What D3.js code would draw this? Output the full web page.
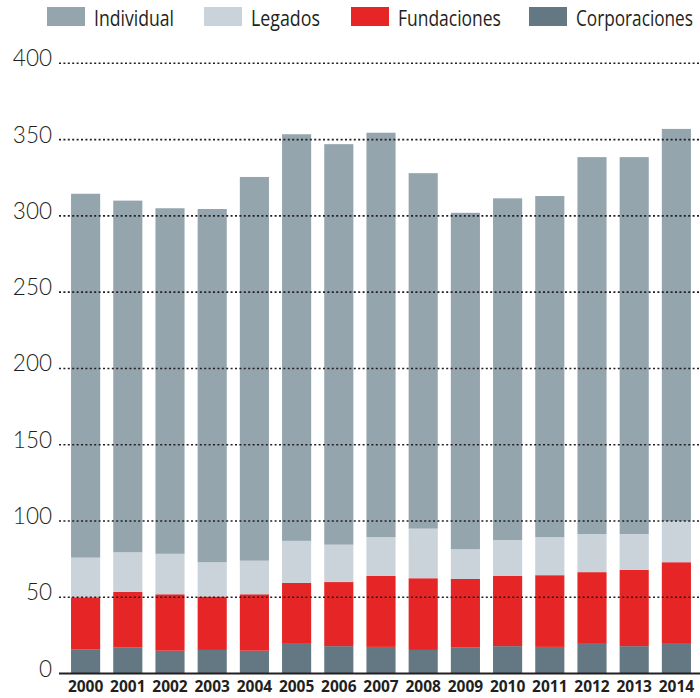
<!DOCTYPE html>
<html>
<head>
<meta charset="utf-8">
<script src="https://cdn.jsdelivr.net/npm/d3@7"></script>
<style>
  body { margin: 0; background: #fff; }
  svg { display: block; }
</style>
</head>
<body>
<div id="chart"></div>
<script>
var years = ["2000", "2001", "2002", "2003", "2004", "2005", "2006", "2007",
             "2008", "2009", "2010", "2011", "2012", "2013", "2014"];

// segment values, bottom to top
var corporaciones = [16, 17, 15, 15.5, 15, 19.5, 18, 17.5, 15.5, 17, 18, 17.5, 19.5, 18, 19.5];
var fundaciones   = [34, 36.5, 37, 35, 37, 40, 42, 46.5, 47, 45, 46, 47, 47, 50, 53.5];
var legados       = [26, 26, 26.5, 22.5, 22, 27.5, 24.5, 25.5, 32.5, 19.5, 23.5, 25, 25, 23.5, 27];
var individual    = [238.5, 230.5, 226.5, 231.5, 251.5, 266.5, 262.5, 265, 233, 220.5, 224, 223.5, 247, 247, 257];

var seriesNames = ["Corporaciones", "Fundaciones", "Legados", "Individual"];
var legendOrder = ["Individual", "Legados", "Fundaciones", "Corporaciones"];
var yTicks = [0, 50, 100, 150, 200, 250, 300, 350, 400];

var colors = {
    Individual: "#94a5ae",
    Legados: "#c9d3d9",
    Fundaciones: "#e52526",
    Corporaciones: "#637883"
};

var rows = years.map(function(y, i) {
    return {
        year: y,
        Corporaciones: corporaciones[i],
        Fundaciones: fundaciones[i],
        Legados: legados[i],
        Individual: individual[i]
    };
});

var width = 700, height = 698;

var svg = d3.select("#chart").append("svg")
    .attr("width", width)
    .attr("height", height);

var x = d3.scaleBand()
    .domain(years)
    .range([64.5, 697.5])
    .paddingInner(0.31)
    .paddingOuter(0.155);

var y = d3.scaleLinear()
    .domain([0, 400])
    .range([673.6, 63.3]);

var stacked = d3.stack().keys(seriesNames)(rows);

// bars
var plot = svg.append("g").attr("class", "plot");
plot.selectAll("g.layer")
    .data(stacked)
    .enter().append("g")
    .attr("class", "layer")
    .attr("fill", function(d) { return colors[d.key]; })
    .selectAll("rect")
    .data(function(d) { return d; })
    .enter().append("rect")
    .attr("x", function(d) { return x(d.data.year); })
    .attr("width", x.bandwidth())
    .attr("y", function(d) { return y(d[1]); })
    .attr("height", function(d) { return y(d[0]) - y(d[1]); });

// dotted grid lines drawn over the bars
svg.append("g").attr("class", "grid")
    .selectAll("line")
    .data(yTicks.filter(function(t) { return t > 0; }))
    .enter().append("line")
    .attr("x1", 59)
    .attr("x2", width)
    .attr("y1", function(d) { return y(d); })
    .attr("y2", function(d) { return y(d); })
    .attr("stroke", "#231f20")
    .attr("stroke-width", 1.6)
    .attr("stroke-dasharray", "2,2.4");

// baseline
svg.append("line")
    .attr("x1", 59).attr("x2", width)
    .attr("y1", y(0)).attr("y2", y(0))
    .attr("stroke", "#231f20")
    .attr("stroke-width", 2);

// y labels
svg.append("g").attr("class", "yaxis")
    .selectAll("text")
    .data(yTicks)
    .enter().append("text")
    .attr("x", 52)
    .attr("y", function(d) { return y(d) + 3; })
    .attr("text-anchor", "end")
    .attr("font-family", "Lato, 'Open Sans', sans-serif")
    .attr("font-weight", 300)
    .attr("font-size", 22.5)
    .attr("fill", "#231f20")
    .text(function(d) { return d; });

// x labels
var xAxis = d3.axisBottom(x).tickSize(0).tickPadding(0);
var xg = svg.append("g")
    .attr("class", "xaxis")
    .attr("transform", "translate(0,681)")
    .call(xAxis);
xg.select(".domain").remove();
xg.selectAll("text")
    .attr("dy", "0.72em")
    .attr("font-family", "'Open Sans', sans-serif")
    .attr("font-weight", 700)
    .attr("font-size", 15.5)
    .attr("fill", "#231f20");

// legend (condensed look: squeeze each label horizontally to its width)
var legendSwatchX = [47, 204, 351, 529];
var legendTextLen = [80, 69, 103, 117];
var legend = svg.append("g").attr("class", "legend");
legendOrder.forEach(function(name, i) {
    legend.append("rect")
        .attr("x", legendSwatchX[i])
        .attr("y", 7)
        .attr("width", 38)
        .attr("height", 19)
        .attr("fill", colors[name]);
    var t = legend.append("text")
        .attr("font-family", "'Open Sans', sans-serif")
        .attr("font-size", 21)
        .attr("fill", "#231f20")
        .text(name);
    var sx = legendTextLen[i] / t.node().getComputedTextLength();
    t.attr("transform", "translate(" + (legendSwatchX[i] + 47) + ",26) scale(" + sx + ",1)");
});
</script>
</body>
</html>
